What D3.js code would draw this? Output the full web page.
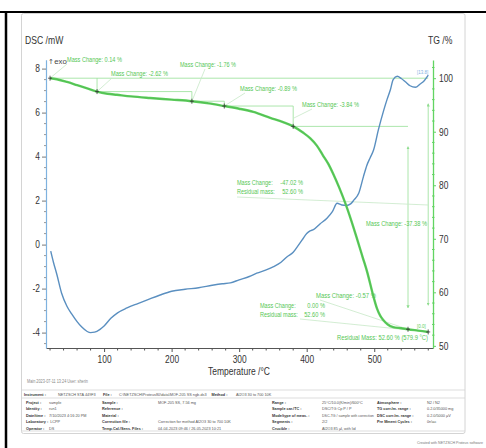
<!DOCTYPE html>
<html><head><meta charset="utf-8">
<script src="https://cdn.jsdelivr.net/npm/d3@7/dist/d3.min.js"></script>
<style>body{margin:0;background:#fff}svg{display:block}</style>
</head><body>
<script>
// ---------- data ----------
const dscTemp  = [21, 25, 30, 37, 45, 52, 60, 67, 75, 80, 86, 94, 100, 110, 120, 134, 150, 165, 183, 200, 220, 240, 260, 275, 287, 300, 315, 326, 340, 351, 362, 371, 380, 386, 393, 400, 405, 410, 420, 430, 438, 445, 452, 459, 465, 470, 477, 484, 489, 494, 499, 506, 514, 519, 524, 528, 534, 540, 546, 553, 561, 568, 574, 580];
const dscValue = [-0.3, -0.8, -1.35, -2.2, -2.8, -3.15, -3.5, -3.75, -3.95, -4.0, -3.98, -3.85, -3.7, -3.35, -3.1, -2.88, -2.68, -2.5, -2.29, -2.12, -2.03, -1.96, -1.85, -1.78, -1.74, -1.6, -1.45, -1.3, -1.15, -1.0, -0.8, -0.55, -0.35, -0.1, 0.2, 0.5, 0.62, 0.68, 0.95, 1.2, 1.5, 1.88, 1.8, 1.78, 1.85, 2.03, 2.33, 3.09, 3.6, 3.95, 4.3, 5.2, 6.1, 6.6, 7.05, 7.5, 7.65, 7.55, 7.4, 7.22, 7.15, 7.3, 7.45, 7.7];
const tgTemp  = [20, 30, 45, 60, 75, 89.6, 105, 119, 140, 168, 200, 230, 255, 278, 300, 321, 346, 365, 380, 395, 405, 415, 424, 432, 439, 448, 457, 466, 475, 483, 490, 498, 504, 509, 513, 520, 528, 540, 550, 565, 579.9];
const tgValue = [100.0, 99.8, 99.3, 98.7, 98.1, 97.5, 97.1, 96.9, 96.6, 96.3, 96.0, 95.7, 95.3, 94.8, 94.3, 93.7, 92.6, 91.8, 91.0, 89.8, 88.8, 87.4, 85.6, 84.0, 82.2, 79.6, 76.7, 73.4, 69.8, 66.5, 63.6, 59.6, 57.0, 55.6, 54.9, 54.0, 53.5, 53.3, 53.1, 52.85, 52.6];
const stepTemp = [20, 89.6, 230, 278, 380, 550, 579.9];
const stepMass = [100.0, 97.5, 95.7, 94.8, 91.0, 53.1, 52.6];
const xTicks = [100, 200, 300, 400, 500];
const dscTicks = [-4, -2, 0, 2, 4, 6, 8];
const tgTicks = [50, 60, 70, 80, 90, 100];
const massLabels = ["Mass Change: 0.14 %", "Mass Change: -2.62 %", "Mass Change: -1.76 %", "Mass Change: -0.89 %", "Mass Change: -3.84 %", "Mass Change: -37.38 %", "Mass Change: -0.57 %", "Residual Mass: 52.60 % (579.9 °C)"];
const pairLabels = [["Mass Change:", "-47.02 %"], ["Residual mass:", "52.60 %"], ["Mass Change:", "0.00 %"], ["Residual mass:", "52.60 %"]];
const infoTop = [["Instrument :", "NETZSCH STA 449F3"], ["File :", "C:\\NETZSCH\\Proteus80\\data\\MOF-205 SS ngb-ds3"], ["Method :", "Al2O3 30 to 700 10K"]];
const infoCols = [
  [["Project :", "sample"], ["Identity :", "run1"], ["Date/time :", "7/10/2023 4:16:20 PM"], ["Laboratory :", "LCPP"], ["Operator :", "DS"]],
  [["Sample :", "MOF-205 SS, 7.56 mg"], ["Reference :", ""], ["Material :", ""], ["Correction file :", "Correction for method Al2O3 30 to 700 10K"], ["Temp.Cal./Sens. Files :", "04-04-2023 09:46 / 26-05-2023 10:21"]],
  [["Range :", "25°C/10.0(K/min)/600°C"], ["Sample car./TC :", "DSC/TG Cp P / P"], ["Mode/type of meas. :", "DSC-TG / sample with correction"], ["Segments :", "2/2"], ["Crucible :", "Al2O3 85 µl, with lid"]],
  [["Atmosphere :", "N2 / N2"], ["TG corr./m. range :", "0.2.0/35000 mg"], ["DSC corr./m. range :", "0.2.0/5000 µV"], ["Pre Mment Cycles :", "0n\\ac"]]
];

// ---------- layout ----------
const W = 486, H = 448;
const F = "'Liberation Sans',Arial,sans-serif";
const svg = d3.select("body").append("svg").attr("width", W).attr("height", H);
function narrow(sel, f, maxW) {
  sel.each(function () {
    let L = this.getComputedTextLength() * f;
    if (maxW !== undefined) L = Math.min(L, maxW);
    if (L > 0) d3.select(this).attr("textLength", L).attr("lengthAdjust", "spacingAndGlyphs");
  });
  return sel;
}

const x = d3.scaleLinear().domain([14, 587]).range([46, 433]);
const yL = d3.scaleLinear().domain([-4.7, 8.4]).range([348, 59.8]);
const yR = d3.scaleLinear().domain([49.6, 103.4]).range([348, 60]);

// frames
svg.append("rect").attr("x", 21.5).attr("y", 13.5).attr("width", 443.5).attr("height", 420)
  .attr("fill", "none").attr("stroke", "#d4d4d4").attr("rx", 2);
svg.append("line").attr("x1", 0).attr("x2", W).attr("y1", 12).attr("y2", 12).attr("stroke", "#000").attr("stroke-width", 2);
svg.append("line").attr("x1", 6).attr("x2", 6).attr("y1", 11).attr("y2", H).attr("stroke", "#000").attr("stroke-width", 2.5);

// defs arrow
const defs = svg.append("defs");
defs.append("marker").attr("id", "ah").attr("viewBox", "0 0 6 6").attr("refX", 5).attr("refY", 3)
  .attr("markerWidth", 4).attr("markerHeight", 4).attr("orient", "auto-start-reverse")
  .append("path").attr("d", "M0,0L6,3L0,6Z").attr("fill", "#8fdc8f");

const fmt = d => String(d);
// axes
const gx = svg.append("g").attr("transform", "translate(0,348)")
  .call(d3.axisBottom(x).tickValues(xTicks).tickFormat(fmt).tickSize(4).tickSizeOuter(0).tickPadding(4));
gx.select(".domain").attr("stroke", "#555");
gx.selectAll(".tick line").attr("stroke", "#555");
narrow(gx.selectAll("text").attr("font-family", F).attr("font-size", 10.5).attr("fill", "#333"), 0.8);
gx.selectAll(".minor").data(d3.range(20, 587, 20).filter(v => v % 100 !== 0)).enter().append("line")
  .attr("x1", d => x(d)).attr("x2", d => x(d)).attr("y1", 0).attr("y2", 2.5).attr("stroke", "#555");

const gl = svg.append("g").attr("transform", "translate(46,0)")
  .call(d3.axisLeft(yL).tickValues(dscTicks).tickFormat(fmt).tickSize(4).tickSizeOuter(0).tickPadding(2));
gl.select(".domain").attr("stroke", "#7fb2df").attr("stroke-width", 1.2);
gl.selectAll(".tick line").attr("stroke", "#777");
narrow(gl.selectAll("text").attr("font-family", F).attr("font-size", 10.5).attr("fill", "#333"), 0.8);
gl.selectAll(".minor").data(d3.range(-4.5, 8.3, 0.5).filter(v => v % 2 !== 0)).enter().append("line")
  .attr("y1", d => yL(d)).attr("y2", d => yL(d)).attr("x1", 0).attr("x2", -2).attr("stroke", "#999");

const gr = svg.append("g").attr("transform", "translate(433,0)")
  .call(d3.axisRight(yR).tickValues(tgTicks).tickFormat(fmt).tickSize(3).tickSizeOuter(0).tickPadding(3));
gr.select(".domain").attr("stroke", "#62d462").attr("stroke-width", 1.3);
gr.selectAll(".tick line").attr("stroke", "#62d462");
narrow(gr.selectAll("text").attr("font-family", F).attr("font-size", 10.5).attr("fill", "#333"), 0.8);
gr.selectAll(".minor").data(d3.range(52, 103, 2).filter(v => v % 10 !== 0)).enter().append("line")
  .attr("y1", d => yR(d)).attr("y2", d => yR(d)).attr("x1", -1).attr("x2", 1.5).attr("stroke", "#62d462");

// axis titles
narrow(svg.append("text").attr("x", 25).attr("y", 44).text("DSC /mW").attr("font-family", F).attr("font-size", 10.5).attr("fill", "#333"), 0.82);
narrow(svg.append("text").attr("x", 428).attr("y", 44).text("TG /%").attr("font-family", F).attr("font-size", 10.5).attr("fill", "#333"), 0.82);
svg.append("text").attr("x", 239).attr("y", 375).attr("text-anchor", "middle").text("Temperature /°C")
  .attr("font-family", F).attr("font-size", 11).attr("fill", "#333").attr("textLength", 62).attr("lengthAdjust", "spacingAndGlyphs");
const exo = svg.append("text").attr("x", 48).attr("y", 63.5).attr("fill", "#444");
exo.append("tspan").text("↑").attr("font-family", "DejaVu Sans").attr("font-size", 7);
exo.append("tspan").text("exo").attr("font-family", F).attr("font-size", 7.8).attr("dx", 0.3);
narrow(svg.append("text").attr("x", 27).attr("y", 383).text("Main    2023-07-11 13:24    User: sherin").attr("font-family", F).attr("font-size", 4.5).attr("fill", "#888"), 0.85);

// annotation lines (light green)
const ann = svg.append("g").attr("stroke", "#97df97").attr("stroke-width", 0.8).attr("fill", "none");
const px = stepTemp.map(t => x(t)), py = stepMass.map(m => yR(m));
ann.append("line").attr("x1", px[0]).attr("x2", px[6]).attr("y1", py[0]).attr("y2", py[0]);
for (let i = 1; i <= 4; i++) {
  ann.append("line").attr("x1", px[i]).attr("x2", px[i]).attr("y1", py[i - 1]).attr("y2", py[i]);
  ann.append("line").attr("x1", px[i]).attr("x2", px[i + 1]).attr("y1", py[i]).attr("y2", py[i]);
}
ann.append("line").attr("x1", px[5]).attr("x2", px[5]).attr("y1", yR(87.2)).attr("y2", yR(57.1))
  .attr("marker-start", "url(#ah)").attr("marker-end", "url(#ah)");
ann.append("line").attr("x1", px[6]).attr("x2", px[6]).attr("y1", yR(95.2)).attr("y2", yR(57.6))
  .attr("marker-start", "url(#ah)").attr("marker-end", "url(#ah)");
// leader lines
const lead = svg.append("g").attr("stroke", "#c8e8c8").attr("stroke-width", 0.8);
[[67, 64, px[0], py[0]], [112, 78, px[1], py[1]], [205, 69, px[2], py[2]], [245, 93, px[3], py[3]],
 [312, 109, px[4], py[4] - 8], [237, 197, px[6], 205], [320, 300, px[5], py[5]], [300, 319, px[6], py[6]]]
  .forEach(d => lead.append("line").attr("x1", d[0]).attr("y1", d[1]).attr("x2", d[2]).attr("y2", d[3]));

// curves
const lineDSC = d3.line().x((d, i) => x(dscTemp[i])).y(d => yL(d)).curve(d3.curveMonotoneX);
svg.append("path").attr("d", lineDSC(dscValue)).attr("fill", "none").attr("stroke", "#5a8fc0").attr("stroke-width", 1.4);
const lineTG = d3.line().x((d, i) => x(tgTemp[i])).y(d => yR(d)).curve(d3.curveMonotoneX);
svg.append("path").attr("d", lineTG(tgValue)).attr("fill", "none").attr("stroke", "#5ed05e").attr("stroke-width", 2.4);
svg.append("path").attr("d", lineTG(tgValue)).attr("fill", "none").attr("stroke", "#3f9a3f").attr("stroke-width", 0.7).attr("opacity", 0.5);

// step markers
stepTemp.forEach((t, i) => {
  const cx = x(t), cy = yR(stepMass[i]);
  svg.append("path").attr("d", `M${cx - 2},${cy}H${cx + 2}M${cx},${cy - 2.5}V${cy + 2.5}`).attr("stroke", "#333").attr("stroke-width", 0.8);
});

// small value tags
svg.append("text").attr("x", 417).attr("y", 74).text("[13.8]").attr("font-family", F).attr("font-size", 4.5).attr("fill", "#7fb2df");
svg.append("text").attr("x", 417).attr("y", 328).text("[0.0]").attr("font-family", F).attr("font-size", 4.5).attr("fill", "#5ed05e");

// annotation texts
const tg = svg.append("g").attr("font-family", F).attr("font-size", 6.3).attr("fill", "#55c755");
const massPos = [[67, 62, 55], [111, 76, 57], [180, 67, 56], [240, 91, 57], [302, 107, 57], [366, 226, 61], [316, 298, 60], [337, 340, 91]];
massLabels.forEach((s, i) => tg.append("text").attr("x", massPos[i][0]).attr("y", massPos[i][1]).text(s)
  .attr("textLength", massPos[i][2]).attr("lengthAdjust", "spacingAndGlyphs"));
const pairPos = [[237, 185, 303], [237, 194, 303], [260, 308, 325], [260, 317, 325]];
pairLabels.forEach((p, i) => {
  narrow(tg.append("text").attr("x", pairPos[i][0]).attr("y", pairPos[i][1]).text(p[0]), 0.88);
  narrow(tg.append("text").attr("x", pairPos[i][2]).attr("y", pairPos[i][1]).attr("text-anchor", "end").text(p[1]), 0.9);
});

// info table (real font sizes, fitted to widths)
const FS = 3.8;
const tb = svg.append("g").attr("font-family", F).attr("font-size", FS);
[390, 398, 431].forEach(yy => tb.append("line").attr("x1", 21.5).attr("x2", 465).attr("y1", yy).attr("y2", yy).attr("stroke", "#d4d4d4").attr("stroke-width", 0.8));
function put(xx, yy, s, bold, maxW) {
  const t = tb.append("text").attr("x", xx).attr("y", yy).text(s).attr("fill", bold ? "#333" : "#555").attr("font-weight", bold ? "bold" : null);
  let L = t.node().getComputedTextLength();
  if (maxW !== undefined && L > maxW) { t.attr("font-size", FS * maxW / L); L = maxW; }
  return xx + L;
}
function cell(lx, vx, yy, lab, val, limit) {
  const e = put(lx, yy, lab, true);
  const start = Math.max(vx, e + 2);
  return val ? put(start, yy, val, false, limit - start) : e;
}
const topX = [[24, 58], [103, 119], [208, 236]];
let prevEnd = 0;
infoTop.forEach((p, i) => { prevEnd = cell(Math.max(topX[i][0], prevEnd + 5), topX[i][1], 396, p[0], p[1], 462); });
const colX = [[26, 49], [102, 158], [272, 322], [377, 427]];
const colLimit = [99, 268, 374, 462];
const rowY = [403.5, 410, 416.5, 423, 429.5];
infoCols.forEach((col, c) => col.forEach((p, r) => cell(colX[c][0], colX[c][1], rowY[r], p[0], p[1], colLimit[c])));
tb.append("text").attr("x", 483).attr("y", 444).attr("text-anchor", "end").text("Created with NETZSCH Proteus software").attr("fill", "#777").attr("font-size", 3.6);
</script>
</body></html>
